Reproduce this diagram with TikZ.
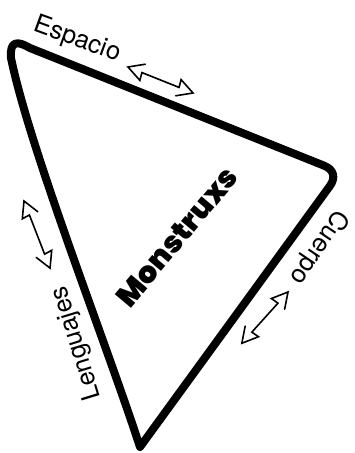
\documentclass[tikz,border=0pt]{standalone}
\usepackage{fontspec}
\newfontfamily\labfont{TeX Gyre Heros}
\IfFontExistsTF{Poppins Black}{\newfontfamily\heavyfont{Poppins Black}}{%
  \IfFontExistsTF{Poppins ExtraBold}{\newfontfamily\heavyfont{Poppins ExtraBold}}{%
    \newfontfamily\heavyfont{DejaVu Sans}[UprightFont={* Bold}]}}
\begin{document}
\begin{tikzpicture}[x=1pt,y=-1pt,
  tri/.style={line width=8pt, line join=round, line cap=round},
  arr/.style={line width=1.6pt, line join=miter, miter limit=10, line cap=round},
  lab/.style={font=\labfont\fontsize{25.5}{26}\selectfont, inner sep=0pt},
  titlelab/.style={font=\heavyfont\fontsize{30}{30}\selectfont, inner sep=0pt},
  pics/dblarrow/.style={code={
    \draw[arr] (15,-9) -- (0,0) -- (16,8) -- (15,0) -- (#1-15,0)
      -- (#1-16,-8) -- (#1,0) -- (#1-15,9);}}]
\useasboundingbox (0,0) rectangle (354,453);
% triangle
\draw[tri] (30,48) -- (324.2,165.7)
  .. controls (333.7,169.5) and (336,177.5) .. (330,185.8)
  -- (140,447)
  .. controls (105,340) and (30,150) .. (11,58)
  .. controls (9.5,40) and (18,41) .. (30,48) -- cycle;
% labels
\node[lab, rotate=-20] (esp) at (77,40) {Espacio};
\node[lab, rotate=107] (len) at (77,343) {Lenguajes};
\node[lab, rotate=-124] (cue) at (319,247) {Cuerpo};
\node[titlelab, rotate=50] (mon) at (177,237) {Monstruxs};
% arrows
\coordinate (a1) at (128,67);
\coordinate (a2) at (24,201);
\coordinate (a3) at (288,292);
\path (a1) pic[rotate=-21.8] {dblarrow=70};
\path (a2) pic[rotate=-68.8] {dblarrow=72};
\path (a3) pic[rotate=-132] {dblarrow=69};
\end{tikzpicture}
\end{document}
